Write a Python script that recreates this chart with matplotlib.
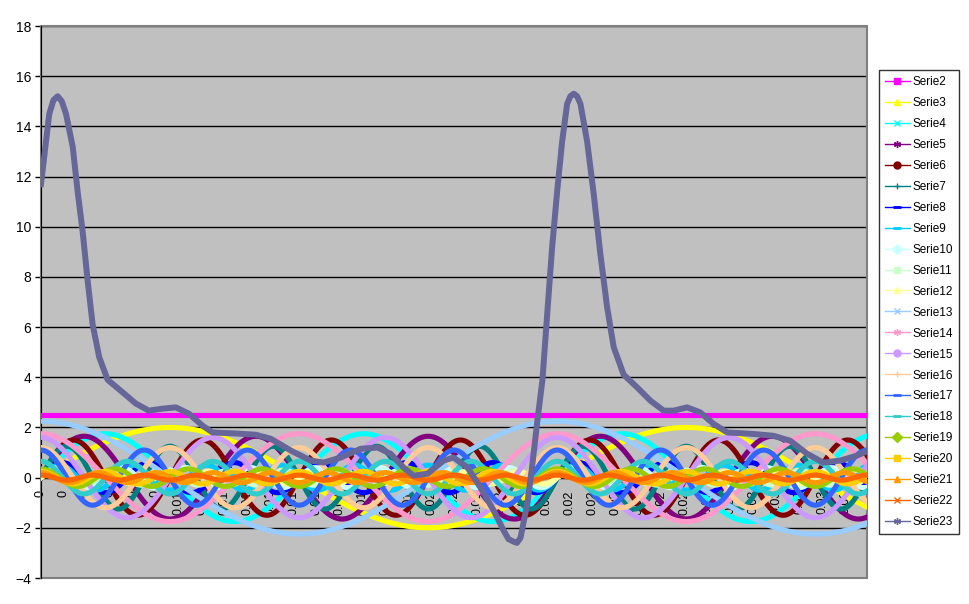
import matplotlib
matplotlib.use('Agg')
import matplotlib.pyplot as plt
from matplotlib.lines import Line2D
from matplotlib.patches import Rectangle
import numpy as np

plt.rcParams['font.family'] = ['Liberation Sans', 'DejaVu Sans']

# series names / colours (Excel default palette) / legend markers
names = ['Serie%d' % i for i in range(2, 24)]
colors = ['#FF00FF', '#FFFF00', '#00FFFF', '#800080', '#800000', '#008080', '#0000FF',
          '#00CCFF', '#CCFFFF', '#CCFFCC', '#FFFF99', '#99CCFF', '#FF99CC', '#CC99FF',
          '#FFCC99', '#3366FF', '#33CCCC', '#99CC00', '#FFCC00', '#FF9900', '#FF6600',
          '#666699']
markers = ['s', '^', 'x', (6, 2, 0), 'o', '+', '_', '_', 'D', 's', '^', 'x', (6, 2, 0),
           'o', '+', '_', '_', 'D', 's', '^', 'x', (6, 2, 0)]

# Serie2: constant level
serie2_level = 2.5

# Serie3..Serie22: harmonic components (period 0.02 s)
period = 0.02
harm_kind = ['sin'] * 10 + ['cos'] * 10
harm_order = [1, 2, 3, 4, 5, 6, 7, 8, 9, 10, 1, 2, 3, 4, 5, 6, 7, 8, 9, 10]
harm_amp = [2.0, 1.75, 1.65, 1.5, 1.25, 0.6, 0.5, 0.4, 0.3, 0.25,
            2.25, 1.75, 1.6, 1.2, 1.1, 0.65, 0.35, 0.25, 0.2, 0.1]

# Serie23: the total signal, read point by point
t23 = [0.0, 0.000321, 0.000484, 0.000646, 0.000805, 0.000968, 0.001227, 0.00142,
       0.001614, 0.001807, 0.002001, 0.002256, 0.002581, 0.003162, 0.003677, 0.00418,
       0.00471, 0.005225, 0.005728, 0.006258, 0.006645, 0.007547, 0.00832, 0.008901,
       0.009675, 0.010449, 0.010952, 0.01161, 0.012384, 0.013042, 0.013545, 0.014048,
       0.014435, 0.014977, 0.015596, 0.015983, 0.016525, 0.017028, 0.017531, 0.017918,
       0.018112, 0.018305, 0.01844, 0.018576, 0.018847, 0.01904, 0.019234, 0.019427,
       0.019609, 0.019803, 0.019996, 0.02019, 0.020383, 0.020507, 0.020639, 0.02077,
       0.020898, 0.021157, 0.021413, 0.021672, 0.021931, 0.022187, 0.022574, 0.023092,
       0.023607, 0.024122, 0.024509, 0.025027, 0.025542, 0.026045, 0.026587, 0.027477,
       0.028367, 0.029025, 0.029683, 0.030302, 0.03096, 0.031618, 0.032]
v23 = [11.7, 14.5, 15.05, 15.2, 15.0, 14.5, 13.2, 11.4, 9.8, 7.85, 6.1, 4.8, 3.9, 3.4,
       2.95, 2.67, 2.75, 2.8, 2.55, 2.07, 1.8, 1.76, 1.71, 1.55, 1.08, 0.68, 0.6, 0.8,
       1.15, 1.2, 0.95, 0.4, 0.08, 0.16, 0.68, 0.8, 0.4, -0.4, -1.3, -2.1, -2.45, -2.55,
       -2.6, -2.4, -1.0, 0.56, 2.3, 3.9, 6.5, 9.2, 11.4, 13.4, 14.9, 15.2, 15.3, 15.2,
       14.9, 13.4, 11.3, 8.9, 6.8, 5.2, 4.1, 3.6, 3.07, 2.67, 2.67, 2.8, 2.6, 2.15, 1.8,
       1.75, 1.67, 1.47, 0.95, 0.6, 0.68, 0.88, 1.05]

# category labels on the x axis
label_step = 0.00089
xlabels = ['0'] * 6 + ['0.01'] * 11 + ['0.02'] * 12 + ['0.03'] * 7

fig = plt.figure(figsize=(9.70, 6.04), dpi=100)
ax = fig.add_axes([41 / 970, 1 - 578 / 604, 826 / 970, 552 / 604])
ax.set_facecolor('#C0C0C0')

# category axis crosses at 0 (set before the ticks, it resets them)
ax.spines['bottom'].set_position(('data', 0))
ax.spines['bottom'].set_color('black')
ax.spines['left'].set_color('black')
ax.spines['top'].set_visible(False)
ax.spines['right'].set_visible(False)

t = np.linspace(0, t23[-1], 800)
w = 2 * np.pi / period
lw = 3.7
ax.plot(t, np.full_like(t, serie2_level), color=colors[0], lw=lw, zorder=3)
for i in range(len(harm_amp)):
    if harm_kind[i] == 'sin':
        y = harm_amp[i] * np.sin(harm_order[i] * w * t)
    else:
        y = harm_amp[i] * np.cos(harm_order[i] * w * t)
    ax.plot(t, y, color=colors[i + 1], lw=lw, zorder=3)
ax.plot(t23, v23, color=colors[-1], lw=4.3, zorder=3, solid_joinstyle='round')

ax.set_xlim(0, t23[-1])
ax.set_ylim(-4, 18)
ax.set_yticks(np.arange(-4, 19, 2))
ax.yaxis.grid(True, color='black', lw=1)
ax.set_axisbelow(True)
ax.tick_params(axis='y', direction='out', length=4, width=1, labelsize=10, pad=3)

ax.set_xticks([i * label_step for i in range(len(xlabels))])
ax.set_xticklabels(xlabels, rotation=90, fontsize=9)
ax.tick_params(axis='x', length=0, pad=9)
for lab in ax.get_xticklabels():
    lab.set_zorder(5)

ax.add_patch(Rectangle((0, 0), 1, 1, transform=ax.transAxes, fill=False,
                       edgecolor='#808080', lw=1.5, zorder=1, clip_on=False))

handles = []
for c, m in zip(colors, markers):
    mew = 2 if m == '_' else 1
    ms = 6 if m == '_' else 5
    handles.append(Line2D([], [], color=c, lw=1, marker=m, ms=ms, mew=mew,
                          markerfacecolor=c, markeredgecolor=c))
leg = fig.legend(handles, names, loc='upper left', bbox_to_anchor=(879 / 970, 1 - 70 / 604),
                 fontsize=8.5, frameon=True, fancybox=False, edgecolor='black',
                 handlelength=2.1, handletextpad=0.25, labelspacing=0.76,
                 borderpad=0.5, borderaxespad=0)
leg.get_frame().set_linewidth(1)

fig.savefig('out.png', dpi=100)
